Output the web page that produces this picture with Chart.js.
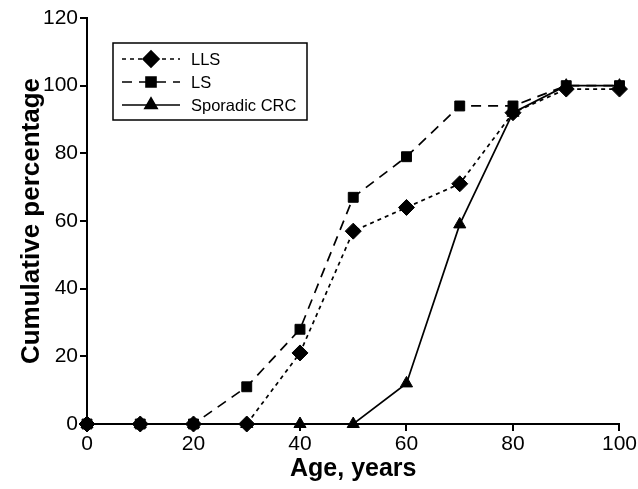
<!DOCTYPE html>
<html>
<head>
<meta charset="utf-8">
<script src="https://cdn.jsdelivr.net/npm/chart.js@4.4.0/dist/chart.umd.min.js"></script>
<style>
  html, body { margin: 0; padding: 0; background: #fff; }
  #wrap { width: 638px; height: 489px; }
</style>
</head>
<body>
<div id="wrap"><canvas id="chart" width="638" height="489"></canvas></div>
<script>
const ages = [0, 10, 20, 30, 40, 50, 60, 70, 80, 90, 100];
const llsValues = [0, 0, 0, 0, 21, 57, 64, 71, 92, 99, 99];
const lsValues = [0, 0, 0, 11, 28, 67, 79, 94, 94, 100, 100];
const sporadicValues = [0, 0, 0, 0, 0, 0, 12, 59, 92, 100, 100];
const xTicks = [0, 20, 40, 60, 80, 100];
const yTicks = [0, 20, 40, 60, 80, 100, 120];

const toPoints = vals => ages.map((a, i) => ({ x: a, y: vals[i] }));
const FONT = "'Liberation Sans', Arial, Helvetica, sans-serif";

// legend drawn as a box with line + marker sample, like the original figure
const boxLegend = {
  id: 'boxLegend',
  afterDraw(chart) {
    const ctx = chart.ctx;
    const bx = 113, by = 43, bw = 194, bh = 77;
    ctx.save();
    ctx.strokeStyle = '#000';
    ctx.lineWidth = 1.5;
    ctx.setLineDash([]);
    ctx.strokeRect(bx, by, bw, bh);
    chart.data.datasets.forEach((ds, i) => {
      const cy = by + 16 + i * 23;
      ctx.strokeStyle = '#000';
      ctx.lineWidth = ds.borderWidth;
      ctx.setLineDash(ds.borderDash || []);
      ctx.beginPath();
      ctx.moveTo(122, cy);
      ctx.lineTo(180, cy);
      ctx.stroke();
      ctx.setLineDash([]);
      ctx.fillStyle = '#000';
      Chart.helpers.drawPoint(ctx, {
        pointStyle: ds.pointStyle,
        radius: ds.pointRadius,
        rotation: 0,
        borderWidth: 1
      }, 151, cy);
      ctx.fillStyle = '#000';
      ctx.font = '16.5px ' + FONT;
      ctx.textBaseline = 'middle';
      ctx.textAlign = 'left';
      ctx.fillText(ds.label, 191, cy + 1);
    });
    ctx.restore();
  }
};

new Chart(document.getElementById('chart').getContext('2d'), {
  type: 'line',
  data: {
    datasets: [{
      label: 'LLS',
      data: toPoints(llsValues),
      borderColor: '#000',
      backgroundColor: '#000',
      borderWidth: 1.7,
      borderDash: [4, 4],
      pointStyle: 'rectRot',
      pointRadius: 8,
      pointBorderWidth: 1,
      tension: 0
    }, {
      label: 'LS',
      data: toPoints(lsValues),
      borderColor: '#000',
      backgroundColor: '#000',
      borderWidth: 1.7,
      borderDash: [10, 7],
      pointStyle: 'rect',
      pointRadius: 7,
      pointBorderWidth: 1,
      tension: 0
    }, {
      label: 'Sporadic CRC',
      data: toPoints(sporadicValues),
      borderColor: '#000',
      backgroundColor: '#000',
      borderWidth: 1.7,
      borderDash: [],
      pointStyle: 'triangle',
      pointRadius: 7,
      pointBorderWidth: 1,
      tension: 0
    }]
  },
  options: {
    responsive: false,
    animation: false,
    clip: false,
    layout: { padding: { top: 18, right: 17, left: 0, bottom: 0 } },
    plugins: {
      legend: { display: false },
      tooltip: { enabled: false }
    },
    scales: {
      x: {
        type: 'linear',
        min: 0,
        max: 100,
        afterFit: s => { s.height = 65; },
        afterBuildTicks: s => { s.ticks = xTicks.map(v => ({ value: v })); },
        ticks: { color: '#000', font: { family: FONT, size: 21 }, padding: 1, maxRotation: 0 },
        grid: { drawOnChartArea: false, color: '#000', lineWidth: 2, tickLength: 7 },
        border: { color: '#000', width: 2 },
        title: {
          display: true,
          text: 'Age, years',
          color: '#000',
          font: { family: FONT, size: 25, weight: 'bold' },
          padding: { top: 0, bottom: 5 }
        }
      },
      y: {
        min: 0,
        max: 120,
        afterFit: s => { s.width = 87; },
        afterBuildTicks: s => { s.ticks = yTicks.map(v => ({ value: v })); },
        ticks: { color: '#000', font: { family: FONT, size: 21 }, padding: 2 },
        grid: { drawOnChartArea: false, color: '#000', lineWidth: 2, tickLength: 7 },
        border: { color: '#000', width: 2 },
        title: {
          display: true,
          text: 'Cumulative percentage',
          color: '#000',
          font: { family: FONT, size: 26, weight: 'bold' },
          padding: { top: 16, bottom: 0 }
        }
      }
    }
  },
  plugins: [boxLegend]
});
</script>
</body>
</html>
